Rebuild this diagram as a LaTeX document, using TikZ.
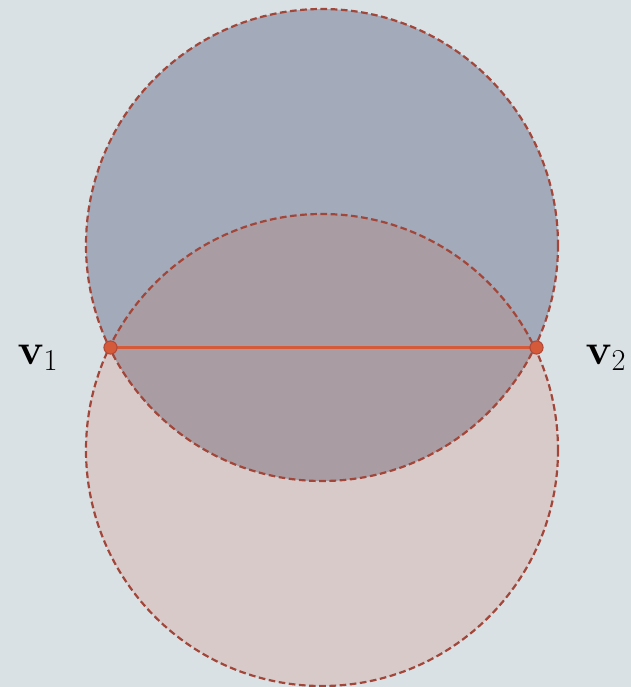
\documentclass[tikz,border=0pt]{standalone}
\usepackage{amsmath}
\definecolor{bgc}{HTML}{DAE1E4}
\definecolor{upc}{HTML}{A3AAB9}
\definecolor{loc}{HTML}{D8CAC9}
\definecolor{ovc}{HTML}{A99DA3}
\definecolor{edgec}{HTML}{A3463A}
\definecolor{chordc}{HTML}{D45A3A}
\tikzset{
  circedge/.style={draw=edgec, line width=1.25pt, dash pattern=on 3.8pt off 2pt},
  vdot/.style={circle, fill=chordc, draw=edgec!80!chordc, line width=0.6pt, inner sep=0pt, minimum size=7.5pt},
  chordline/.style={draw=chordc, line width=1.2pt},
  vlabel/.style={font=\fontsize{25}{30}\selectfont}
}
\begin{document}
\begin{tikzpicture}[x=0.02cm, y=-0.02cm]
\useasboundingbox (0,0) rectangle (631,687);
\fill[bgc] (0,0) rectangle (631,687);
\coordinate (cu) at (322,245);
\coordinate (cl) at (322,450);
\fill[loc] (cl) circle[radius=236];
\fill[upc] (cu) circle[radius=236];
\begin{scope}
  \clip (cu) circle[radius=236];
  \fill[ovc] (cl) circle[radius=236];
\end{scope}
\draw[circedge] (cu) circle[radius=236];
\draw[circedge] (cl) circle[radius=236];
\coordinate (p1) at (110.5,347.5);
\coordinate (p2) at (536.5,347.5);
\draw[chordline] (p1) -- (p2);
\node[vdot] (v1) at (p1) {};
\node[vdot] (v2) at (p2) {};
\node[vlabel] (l1) at (38,358) {$\mathbf{v}_1$};
\node[vlabel] (l2) at (606,358) {$\mathbf{v}_2$};
\end{tikzpicture}
\end{document}
